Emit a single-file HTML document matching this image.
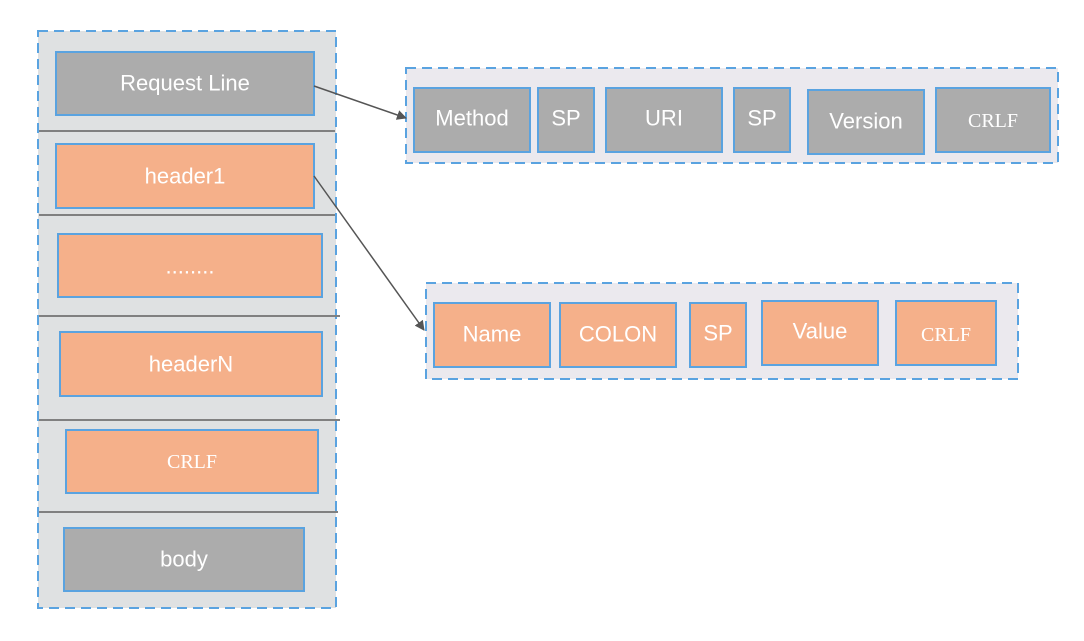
<!DOCTYPE html>
<html><head><meta charset="utf-8"><style>
html,body{margin:0;padding:0;background:#fff;}
svg text{font-family:"Liberation Sans",sans-serif;fill:#fff;font-size:22px;text-anchor:middle;dominant-baseline:central;}
.mono{font-family:"Liberation Serif",serif;font-size:20px;}
</style></head><body>
<svg width="1084" height="636" viewBox="0 0 1084 636" xmlns="http://www.w3.org/2000/svg">
<defs><marker id="a" markerWidth="10" markerHeight="10" refX="9" refY="5" orient="auto" markerUnits="userSpaceOnUse"><path d="M0,0 L10,5 L0,10 z" fill="#555"/></marker></defs>
<rect x="38" y="31" width="298" height="577" fill="#dfe1e2" stroke="#5aa3e0" stroke-width="2" stroke-dasharray="10,6"/>
<g stroke="#808080" stroke-width="2">
<line x1="39" y1="131" x2="335" y2="131"/><line x1="39" y1="215" x2="335" y2="215"/>
<line x1="39" y1="316" x2="340" y2="316"/><line x1="39" y1="420" x2="340" y2="420"/>
<line x1="39" y1="512" x2="338" y2="512"/></g>
<g stroke="#5aa3e0" stroke-width="2">
<rect x="56" y="52" width="258" height="63" fill="#acacac"/>
<rect x="56" y="144" width="258" height="64" fill="#f5b08a"/>
<rect x="58" y="234" width="264" height="63" fill="#f5b08a"/>
<rect x="60" y="332" width="262" height="64" fill="#f5b08a"/>
<rect x="66" y="430" width="252" height="63" fill="#f5b08a"/>
<rect x="64" y="528" width="240" height="63" fill="#acacac"/>
</g>
<text x="185" y="83">Request Line</text>
<text x="185" y="176">header1</text>
<text x="190" y="266">........</text>
<text x="191" y="364">headerN</text>
<text x="192" y="462" class="mono">CRLF</text>
<text x="184" y="559">body</text>

<rect x="406" y="68" width="652" height="95" fill="#ebe9ee" stroke="#5aa3e0" stroke-width="2" stroke-dasharray="10,6"/>
<g stroke="#5aa3e0" stroke-width="2" fill="#acacac">
<rect x="414" y="88" width="116" height="64"/><rect x="538" y="88" width="56" height="64"/>
<rect x="606" y="88" width="116" height="64"/><rect x="734" y="88" width="56" height="64"/>
<rect x="808" y="90" width="116" height="64"/><rect x="936" y="88" width="114" height="64"/></g>
<text x="472" y="118">Method</text><text x="566" y="118">SP</text><text x="664" y="118">URI</text>
<text x="762" y="118">SP</text><text x="866" y="121">Version</text><text x="993" y="121" class="mono">CRLF</text>

<rect x="426" y="283" width="592" height="96" fill="#ebe9ee" stroke="#5aa3e0" stroke-width="2" stroke-dasharray="10,6"/>
<g stroke="#5aa3e0" stroke-width="2" fill="#f5b08a">
<rect x="434" y="303" width="116" height="64"/><rect x="560" y="303" width="116" height="64"/>
<rect x="690" y="303" width="56" height="64"/><rect x="762" y="301" width="116" height="64"/>
<rect x="896" y="301" width="100" height="64"/></g>
<text x="492" y="334">Name</text><text x="618" y="334">COLON</text><text x="718" y="333">SP</text>
<text x="820" y="331">Value</text><text x="946" y="335" class="mono">CRLF</text>

<g stroke="#555" stroke-width="1.5" fill="none">
<line x1="314" y1="86" x2="406" y2="118" marker-end="url(#a)"/>
<line x1="314" y1="176" x2="424" y2="330" marker-end="url(#a)"/></g>
</svg>
</body></html>
